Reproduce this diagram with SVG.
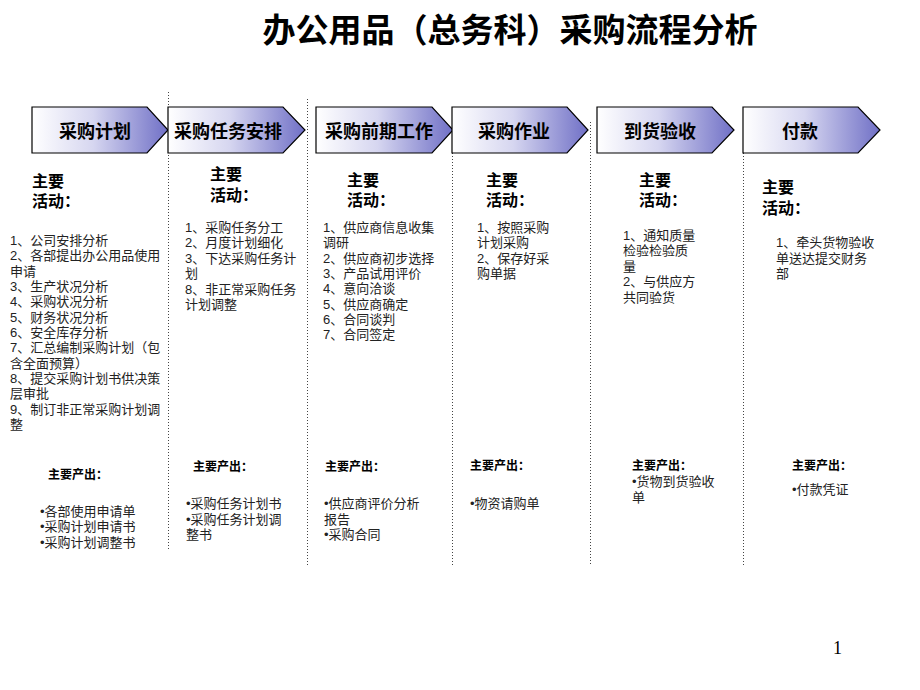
<svg xmlns="http://www.w3.org/2000/svg" width="920" height="690" viewBox="0 0 920 690">
<defs>
<linearGradient id="g" x1="0" y1="0" x2="1" y2="0">
<stop offset="0" stop-color="#ffffff"/>
<stop offset="0.45" stop-color="#d6d6f0"/>
<stop offset="1" stop-color="#7070c6"/>
</linearGradient>
<style>
.chev{fill:url(#g);stroke:#000;stroke-width:1.2}
.lab{font-family:"Liberation Sans","Noto Sans CJK SC",sans-serif;font-size:18px;font-weight:bold;fill:#000;text-anchor:middle}
.title{font-family:"Noto Sans CJK SC",sans-serif;font-size:33px;font-weight:bold;fill:#000;text-anchor:middle}
.hd{font-family:"Liberation Sans","Noto Sans CJK SC",sans-serif;font-size:16px;font-weight:bold;fill:#000}
.hd2{font-family:"Liberation Sans","Noto Sans CJK SC",sans-serif;font-size:12px;font-weight:bold;fill:#000}
.tx{font-family:"Liberation Sans","Noto Sans CJK SC",sans-serif;font-size:13px;fill:#222}
.sep{stroke:#444;stroke-width:1;stroke-dasharray:1 2;fill:none}
.pg{font-family:"Liberation Serif",serif;font-size:18px;fill:#000}
</style>
</defs>
<rect width="920" height="690" fill="#fff"/>
<text class="title" x="510" y="42">办公用品（总务科）采购流程分析</text>

<g id="separators">
<line class="sep" x1="168.5" y1="92" x2="168.5" y2="550"/>
<line class="sep" x1="307.5" y1="99" x2="307.5" y2="565"/>
<line class="sep" x1="452.5" y1="153" x2="452.5" y2="565"/>
<line class="sep" x1="590.5" y1="122" x2="590.5" y2="565"/>
<line class="sep" x1="743.5" y1="153" x2="743.5" y2="565"/>
</g>

<g id="step1">
<path class="chev" d="M32 107H147L168 130L147 153H32Z"/>
<text class="lab" x="95" y="138">采购计划</text>
<text class="hd" x="32" y="187">主要</text>
<text class="hd" x="32" y="207">活动：</text>
<text class="tx" x="10" y="245">1、公司安排分析</text>
<text class="tx" x="10" y="260.3">2、各部提出办公用品使用</text>
<text class="tx" x="10" y="275.7">申请</text>
<text class="tx" x="10" y="291">3、生产状况分析</text>
<text class="tx" x="10" y="306.3">4、采购状况分析</text>
<text class="tx" x="10" y="321.7">5、财务状况分析</text>
<text class="tx" x="10" y="337">6、安全库存分析</text>
<text class="tx" x="10" y="352.3">7、汇总编制采购计划（包</text>
<text class="tx" x="10" y="367.7">含全面预算）</text>
<text class="tx" x="10" y="383">8、提交采购计划书供决策</text>
<text class="tx" x="10" y="398.3">层审批</text>
<text class="tx" x="10" y="413.7">9、制订非正常采购计划调</text>
<text class="tx" x="10" y="429">整</text>
<text class="hd2" x="48" y="479">主要产出：</text>
<text class="tx" x="40" y="516">•各部使用申请单</text>
<text class="tx" x="40" y="531">•采购计划申请书</text>
<text class="tx" x="40" y="547">•采购计划调整书</text>
</g>

<g id="step2">
<path class="chev" d="M168 107H283L305 130L283 153H168Z"/>
<text class="lab" x="228" y="138">采购任务安排</text>
<text class="hd" x="210" y="180">主要</text>
<text class="hd" x="210" y="201">活动：</text>
<text class="tx" x="185" y="232">1、采购任务分工</text>
<text class="tx" x="185" y="247">2、月度计划细化</text>
<text class="tx" x="185" y="263">3、下达采购任务计</text>
<text class="tx" x="185" y="278">划</text>
<text class="tx" x="185" y="294">8、非正常采购任务</text>
<text class="tx" x="185" y="309">计划调整</text>
<text class="hd2" x="193" y="471">主要产出：</text>
<text class="tx" x="186" y="508">•采购任务计划书</text>
<text class="tx" x="186" y="524">•采购任务计划调</text>
<text class="tx" x="186" y="539">整书</text>
</g>

<g id="step3">
<path class="chev" d="M316 107H432L453 130L432 153H316Z"/>
<text class="lab" x="379" y="138">采购前期工作</text>
<text class="hd" x="347" y="186">主要</text>
<text class="hd" x="347" y="206">活动：</text>
<text class="tx" x="323" y="232">1、供应商信息收集</text>
<text class="tx" x="323" y="247">调研</text>
<text class="tx" x="323" y="263">2、供应商初步选择</text>
<text class="tx" x="323" y="278">3、产品试用评价</text>
<text class="tx" x="323" y="293">4、意向洽谈</text>
<text class="tx" x="323" y="309">5、供应商确定</text>
<text class="tx" x="323" y="324">6、合同谈判</text>
<text class="tx" x="323" y="339">7、合同签定</text>
<text class="hd2" x="325" y="471">主要产出：</text>
<text class="tx" x="324" y="508">•供应商评价分析</text>
<text class="tx" x="324" y="524">报告</text>
<text class="tx" x="324" y="539">•采购合同</text>
</g>

<g id="step4">
<path class="chev" d="M452 107H567L588 130L567 153H452Z"/>
<text class="lab" x="514" y="138">采购作业</text>
<text class="hd" x="486" y="186">主要</text>
<text class="hd" x="486" y="206">活动：</text>
<text class="tx" x="477" y="232">1、按照采购</text>
<text class="tx" x="477" y="247">计划采购</text>
<text class="tx" x="477" y="263">2、保存好采</text>
<text class="tx" x="477" y="278">购单据</text>
<text class="hd2" x="470" y="470">主要产出：</text>
<text class="tx" x="470" y="508">•物资请购单</text>
</g>

<g id="step5">
<path class="chev" d="M597 107H712L734 130L712 153H597Z"/>
<text class="lab" x="660" y="138">到货验收</text>
<text class="hd" x="639" y="186">主要</text>
<text class="hd" x="639" y="206">活动：</text>
<text class="tx" x="623" y="240">1、通知质量</text>
<text class="tx" x="623" y="255">检验检验质</text>
<text class="tx" x="623" y="271">量</text>
<text class="tx" x="623" y="286">2、与供应方</text>
<text class="tx" x="623" y="302">共同验货</text>
<text class="hd2" x="632" y="470">主要产出：</text>
<text class="tx" x="632" y="486">•货物到货验收</text>
<text class="tx" x="632" y="502">单</text>
</g>

<g id="step6">
<path class="chev" d="M743 107H858L880 130L858 153H743Z"/>
<text class="lab" x="800" y="138">付款</text>
<text class="hd" x="762" y="193">主要</text>
<text class="hd" x="762" y="214">活动：</text>
<text class="tx" x="776" y="247">1、牵头货物验收</text>
<text class="tx" x="776" y="263">单送达提交财务</text>
<text class="tx" x="776" y="278">部</text>
<text class="hd2" x="792" y="470">主要产出：</text>
<text class="tx" x="792" y="494">•付款凭证</text>
</g>

<text class="pg" x="833" y="654">1</text>
</svg>
